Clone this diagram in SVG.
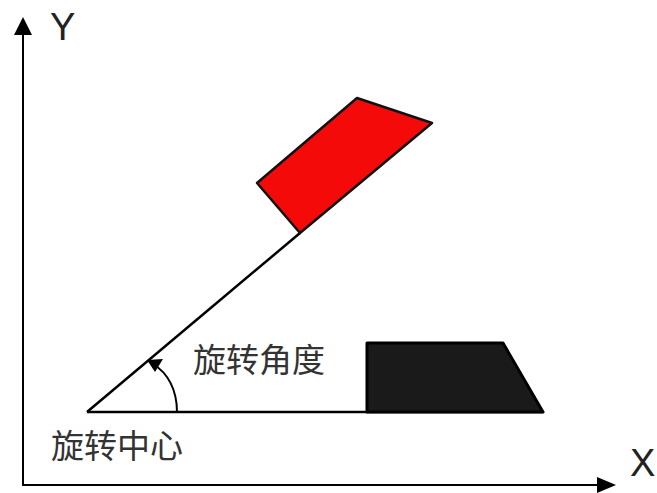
<svg xmlns="http://www.w3.org/2000/svg" width="657" height="493" viewBox="0 0 657 493">
<style>
.axis{stroke:#000;stroke-width:2;fill:none}
.line{stroke:#000;stroke-width:2.5;fill:none}
.lbl{font-family:"Liberation Sans",Arial,sans-serif;font-size:38px;fill:#222}
.cn{font-family:"Noto Sans CJK SC","Noto Sans",sans-serif;font-size:33px;fill:#333}
</style>
<g id="connectors">
<line class="axis" x1="23" y1="486" x2="23" y2="34"/>
<polygon points="23,17 14,35 32,35" fill="#000"/>
<line class="axis" x1="22" y1="485" x2="598" y2="485"/>
<polygon points="616,485 597,477 597,493" fill="#000"/>
<line class="line" x1="87" y1="412" x2="543" y2="412" stroke-width="3"/>
<line class="line" x1="87" y1="412" x2="300" y2="233"/>
<path class="axis" d="M177,412 C177,390 168,373 153,364"/>
<polygon points="147,360 163,359 155,372" fill="#000"/>
</g>
<g id="red-block">
<polygon points="257,183 357,98 432,123 300,233" fill="#f50a0a" stroke="#111" stroke-width="2.5" stroke-linejoin="round"/>
</g>
<g id="black-block">
<polygon points="367,343 503,343 543,412 367,412" fill="#1a1a1a" stroke="#000" stroke-width="3" stroke-linejoin="round"/>
</g>
<g id="labels">
<text class="lbl" x="50" y="40">Y</text>
<text class="lbl" x="630" y="476">X</text>
<text class="cn" x="193" y="372">旋转角度</text>
<text class="cn" x="51" y="458">旋转中心</text>
</g>
</svg>
